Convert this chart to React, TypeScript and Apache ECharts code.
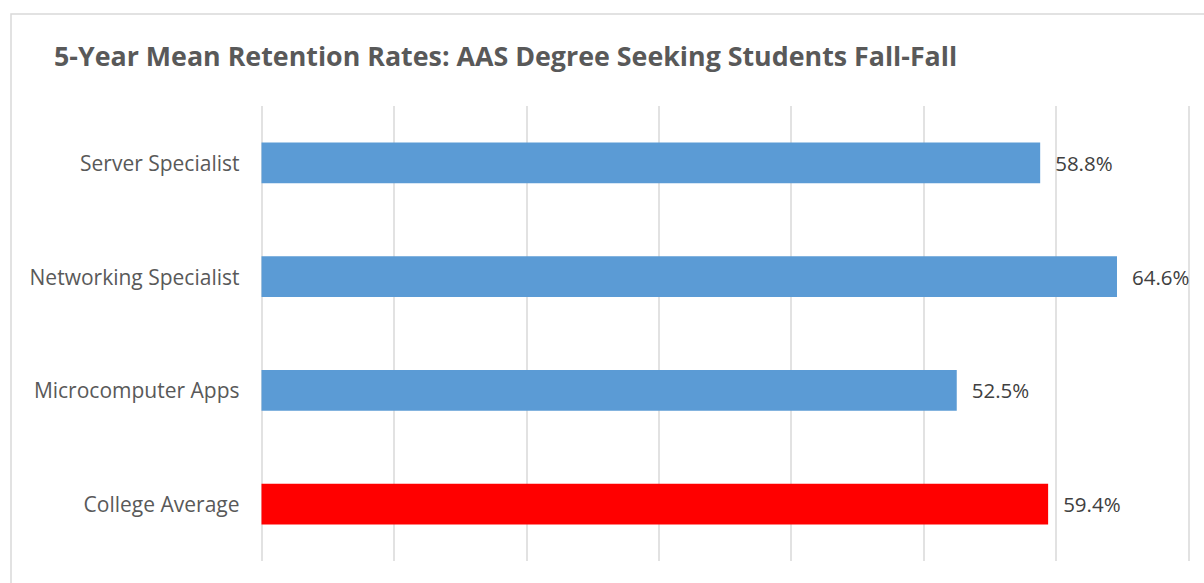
import React, { useEffect, useRef } from "react";
import * as echarts from "echarts";

const categories = ["College Average", "Microcomputer Apps", "Networking Specialist", "Server Specialist"];
const values = [59.4, 52.5, 64.6, 58.8];
const barColors = ["#FF0000", "#5B9BD5", "#5B9BD5", "#5B9BD5"];
const titleText = "5-Year Mean Retention Rates: AAS Degree Seeking Students Fall-Fall";

export default function App() {
  const ref = useRef<HTMLDivElement>(null);
  useEffect(() => {
    if (!ref.current) return;
    const chart = echarts.init(ref.current, undefined, { renderer: "svg" });
    chart.setOption({
      animation: false,
      backgroundColor: "#ffffff",
      graphic: [
        {
          type: "rect",
          shape: { x: 11, y: 14, width: 1240, height: 600 },
          style: { fill: "none", stroke: "#D9D9D9", lineWidth: 1.5 },
          silent: true,
        },
      ],
      title: {
        text: titleText,
        left: 49,
        top: 37,
        textStyle: { fontFamily: "Open Sans", fontSize: 26.8, fontWeight: "bold", color: "#595959" },
      },
      grid: { left: 261.5, right: 15.5, top: 106, bottom: 22 },
      xAxis: {
        type: "value",
        min: 0,
        max: 70,
        interval: 10,
        axisLabel: { show: false },
        axisLine: { show: false },
        axisTick: { show: false },
        splitLine: { show: true, lineStyle: { color: "#D9D9D9", width: 1.5 } },
      },
      yAxis: {
        type: "category",
        data: categories,
        axisLine: { show: false },
        axisTick: { show: false },
        axisLabel: { fontFamily: "Open Sans", fontSize: 21, color: "#595959", margin: 22 },
      },
      series: [
        {
          type: "bar",
          data: values.map((v, i) => ({ value: v, itemStyle: { color: barColors[i] } })),
          barWidth: "36%",
          label: {
            show: true,
            position: "right",
            distance: 15,
            formatter: (p: any) => p.value.toFixed(1) + "%",
            fontFamily: "Open Sans",
            fontSize: 20.5,
            color: "#404040",
          },
        },
      ],
    });
    return () => chart.dispose();
  }, []);
  return <div ref={ref} style={{ position: "fixed", left: 0, top: 0, width: 1204, height: 583 }} />;
}
